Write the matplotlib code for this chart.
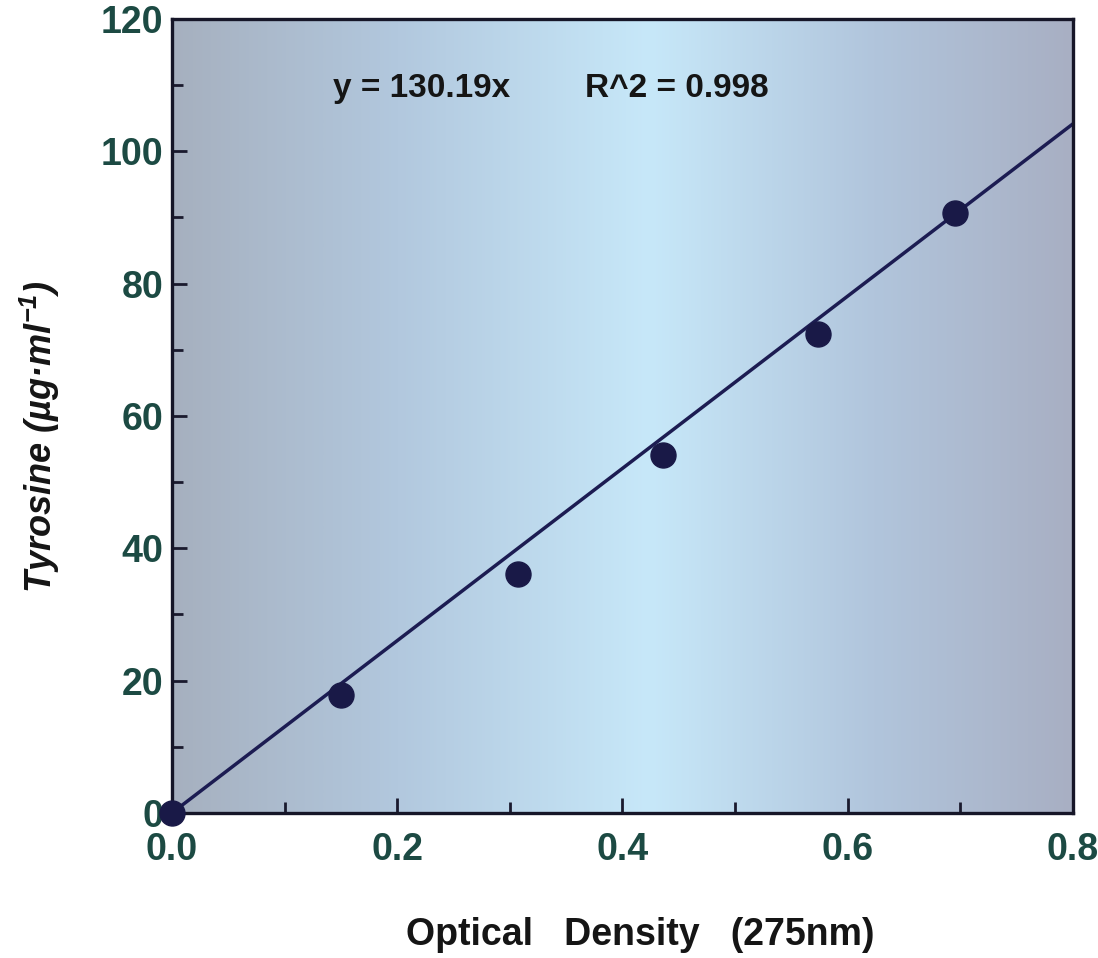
import numpy as np
import matplotlib.pyplot as plt
from matplotlib.colors import LinearSegmentedColormap
from matplotlib.ticker import MultipleLocator

plt.rcParams['font.family'] = ['Liberation Sans', 'DejaVu Sans']
plt.rcParams['font.weight'] = 'bold'
plt.rcParams['mathtext.fontset'] = 'custom'
plt.rcParams['mathtext.rm'] = 'Liberation Sans:bold:italic'
plt.rcParams['mathtext.it'] = 'Liberation Sans:bold:italic'
plt.rcParams['mathtext.bf'] = 'Liberation Sans:bold:italic'

# standard curve: optical density vs tyrosine concentration
od_275 = [0.0, 0.150, 0.307, 0.436, 0.574, 0.695]
tyrosine = [0.0, 17.8, 36.1, 54.1, 72.4, 90.7]

slope = 130.19
r_squared = 0.998

x_ticks = [0.0, 0.2, 0.4, 0.6, 0.8]
x_ticklabels = ['0.0', '0.2', '0.4', '0.6', '0.8']
y_ticks = [0, 20, 40, 60, 80, 100, 120]

fig = plt.figure(figsize=(10.98, 9.58), dpi=100)
ax = fig.add_axes([0.1566, 0.1514, 0.8206, 0.8288])

# horizontal grey -> light blue -> grey backdrop
bg = LinearSegmentedColormap.from_list('bg', [
    (0.00, '#a6b0bf'),
    (0.25, '#b2c8de'),
    (0.53, '#c7e8f9'),
    (0.78, '#b1c5dc'),
    (1.00, '#a8afc3'),
])
grad = np.linspace(0, 1, 512).reshape(1, -1)
ax.imshow(grad, cmap=bg, aspect='auto', extent=[0, 0.8, 0, 120],
          origin='lower', zorder=0, interpolation='bicubic')

fit_x = np.array([0.0, 0.8])
ax.plot(fit_x, slope * fit_x, color='#1c1c52', lw=2.5, zorder=2)
ax.plot(od_275, tyrosine, 'o', color='#191947', ms=18, zorder=3, clip_on=False)

ax.set_xlim(0, 0.8)
ax.set_ylim(0, 120)
ax.set_xticks(x_ticks)
ax.set_xticklabels(x_ticklabels)
ax.set_yticks(y_ticks)
ax.xaxis.set_minor_locator(MultipleLocator(0.1))
ax.yaxis.set_minor_locator(MultipleLocator(10))
ax.tick_params(which='both', direction='in', top=False, right=False,
               colors='#1a1a2e', labelcolor='#1c4a43', labelsize=27)
ax.tick_params(which='major', length=11, width=2)
ax.tick_params(which='minor', length=8, width=2)
ax.tick_params(axis='x', pad=14)
ax.tick_params(axis='y', pad=6)
for lab in ax.get_xticklabels() + ax.get_yticklabels():
    lab.set_fontweight('bold')
for sp in ax.spines.values():
    sp.set_linewidth(2.4)
    sp.set_color('#161628')

ax.text(0.1787, 0.913, f'y = {slope}x', transform=ax.transAxes,
        fontsize=24, fontweight='bold', color='#151515', va='center')
ax.text(0.4584, 0.913, f'R^2 = {r_squared}', transform=ax.transAxes,
        fontsize=24, fontweight='bold', color='#151515', va='center')

fig.text(640 / 1098, 1 - 935 / 958, 'Optical   Density   (275nm)',
         ha='center', va='center', fontsize=27, fontweight='bold', color='#151515')
fig.text(40 / 1098, 1 - 437 / 958, 'Tyrosine (µg·ml$^{-1}$)',
         rotation=90, ha='center', va='center', fontsize=26,
         fontweight='bold', fontstyle='italic', color='#151515')

fig.savefig('out.png', dpi=100)
